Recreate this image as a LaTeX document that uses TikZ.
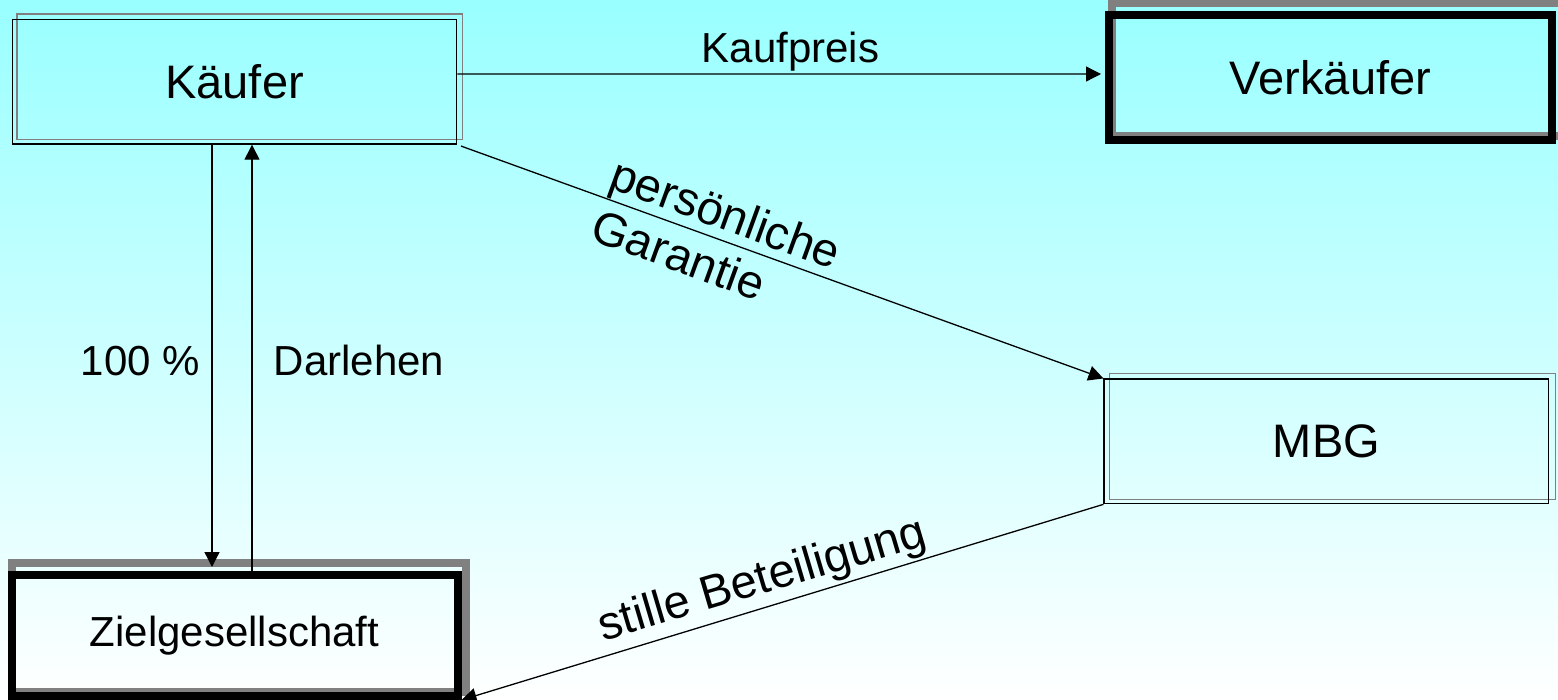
\documentclass[tikz,border=0pt]{standalone}
\usepackage{fontspec}
\setmainfont{Liberation Sans}
\usetikzlibrary{arrows.meta}
\pgfdeclarelayer{back}
\pgfdeclarelayer{shadowlayer}
\pgfsetlayers{back,shadowlayer,main}
\definecolor{bgtop}{HTML}{99FFFF}
\definecolor{shadowgray}{HTML}{808080}
\begin{document}
\begin{tikzpicture}[x=0.5pt,y=-0.5pt,
  box/.style={draw=black, line width=0.65pt, rectangle, inner sep=0pt,
    minimum width=222pt, minimum height=62.3pt, font=\fontsize{23.5}{28}\selectfont},
  thickbox/.style={box, line width=4pt},
  thinshadow/.style={draw=shadowgray, line width=0.75pt},
  thickshadow/.style={draw=shadowgray, line width=4pt},
  arr/.style={line width=0.65pt, -{Triangle[length=7.5pt,width=7.5pt]}},
  lbl/.style={font=\fontsize{21}{25}\selectfont, inner sep=0pt},
  rlbl/.style={font=\fontsize{23.5}{27.5}\selectfont, inner sep=0pt, align=left},
  slbl/.style={font=\fontsize{23.5}{27.5}\selectfont, inner sep=0pt}]
\useasboundingbox (0,0) rectangle (1558,700);
\begin{pgfonlayer}{back}
  \shade[top color=bgtop, bottom color=white] (0,0) rectangle (1558,700);
\end{pgfonlayer}

% boxes
\node[box] (k) at (234.6,81.75) {Käufer};
\node[thickbox, minimum width=221.5pt, minimum height=62.5pt] (v) at (1330.5,77.5) {Verkäufer};
\node[box, minimum width=222.3pt, minimum height=62.3pt] (m) at (1326.4,441.4) {MBG};
\node[thickbox, minimum width=222.9pt, minimum height=60.5pt, font=\fontsize{21}{25}\selectfont] (z) at (234.6,635.5) {Zielgesellschaft};

% shadows
\begin{pgfonlayer}{shadowlayer}
  \draw[thinshadow] ([shift={(5,-5)}]k.south west) rectangle ([shift={(5,-5)}]k.north east);
  \draw[thinshadow] ([shift={(6,-5)}]m.south west) rectangle ([shift={(6,-5)}]m.north east);
  \draw[thickshadow] ([shift={(7,-8)}]v.south west) rectangle ([shift={(7,-8)}]v.north east);
  \draw[thickshadow] ([shift={(4.5,-8)}]z.south west) rectangle ([shift={(4.5,-8)}]z.north east);
\end{pgfonlayer}

% connectors
\draw[arr, shorten >=2pt] ([yshift=3.9pt]k.east) -- ([yshift=1.75pt]v.west);
\draw[arr, shorten <=2pt] (k.south east) -- (m.north west);
\draw[arr, shorten >=2pt] ([xshift=-11.3pt]k.south) -- ([xshift=-11.3pt]z.north);
\draw[arr] ([xshift=8.7pt]z.north) -- ([xshift=8.7pt]k.south);
\draw[arr] (m.south west) -- (z.south east);

% labels
\node[lbl, anchor=base] (kp) at (790.5,63) {Kaufpreis};
\node[rlbl, rotate=-20] (pg) at (716.6,238.9) {persönliche\\Garantie};
\node[lbl, anchor=base] (p100) at (140.5,375) {100 \%};
\node[lbl, anchor=base] (dl) at (359,375) {Darlehen};
\node[slbl, anchor=base, rotate=16.5] (sb) at (766,593) {stille Beteiligung};
\end{tikzpicture}
\end{document}
